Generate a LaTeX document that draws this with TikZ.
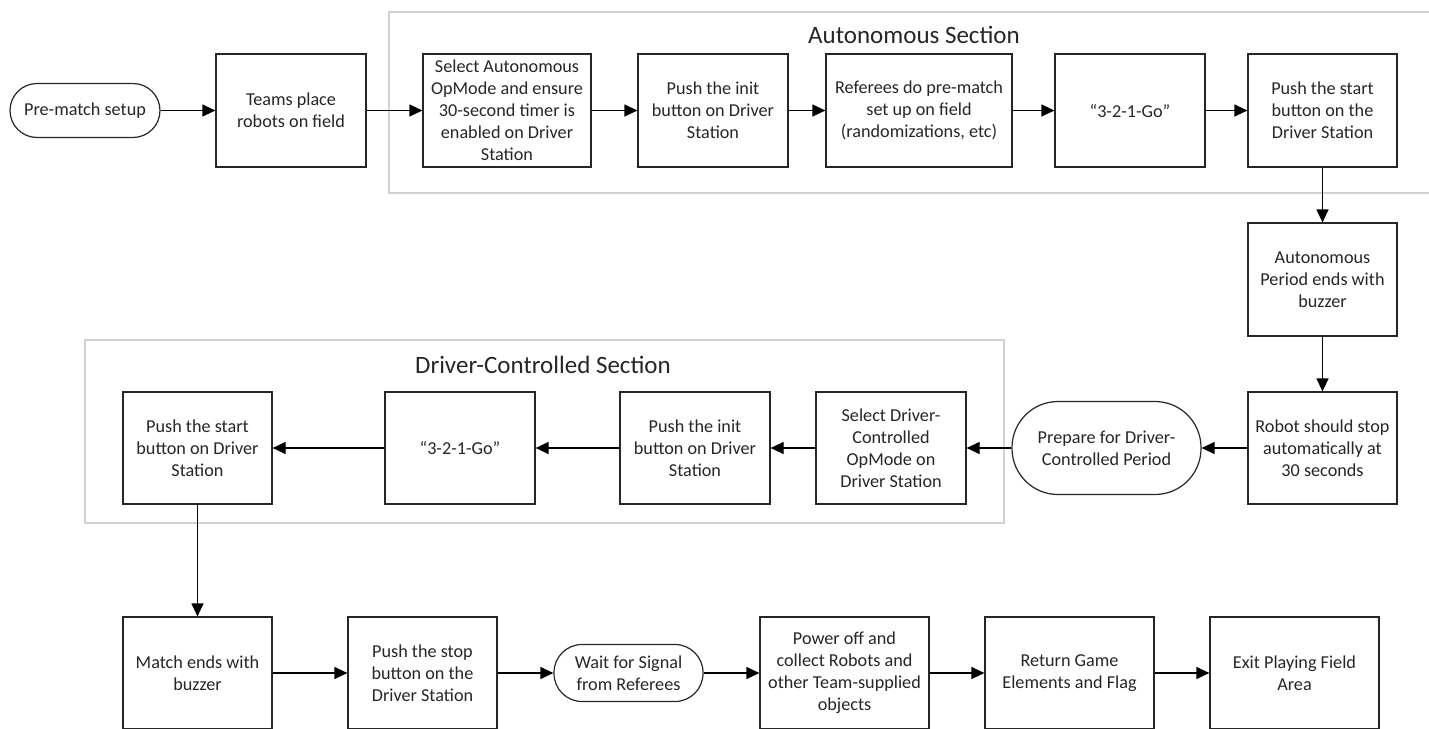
\documentclass[tikz,border=0pt]{standalone}
\usepackage{fontspec}
\setmainfont{Carlito}
\usetikzlibrary{arrows.meta}
\begin{document}
\begin{tikzpicture}[x=1pt,y=-1pt,
  box/.style={draw=black!85, line width=1.2pt, align=center, font=\fontsize{18.2}{22}\selectfont, text=black!85, inner sep=2pt},
  pill/.style={box, rounded corners=#1},
  cont/.style={draw=black!18, line width=1.5pt},
  arr/.style={draw=black, line width=1.2pt, -{Triangle[length=13pt,width=12pt]}},
  ttl/.style={font=\fontsize{25}{29}\selectfont, text=black!85}]
\useasboundingbox (0,0) rectangle (1429,728);
\clip (0,0) rectangle (1429,728);
% containers
\draw[cont] (389,12) rectangle (1440,193);
\node[ttl] (tauto) at (914,35) {Autonomous Section};
\draw[cont] (85,340) rectangle (1004,523);
\node[ttl] (tdc) at (543,365) {Driver-Controlled Section};
% top row
\node[pill=27pt, minimum width=150pt, minimum height=54pt] (p1) at (85,110.5) {Pre-match setup};
\node[box, minimum width=150pt, minimum height=113pt] (b1) at (291,110.5) {Teams place\\robots on field};
\node[box, minimum width=168pt, minimum height=113pt] (b2) at (507,110.5) {Select Autonomous\\OpMode and ensure\\30-second timer is\\enabled on Driver\\Station};
\node[box, minimum width=150pt, minimum height=113pt] (b3) at (713,110.5) {Push the init\\button on Driver\\Station};
\node[box, minimum width=186pt, minimum height=113pt] (b4) at (919,110.5) {Referees do pre-match\\set up on field\\(randomizations, etc)};
\node[box, minimum width=150pt, minimum height=113pt] (b5) at (1130,110.5) {“3-2-1-Go”};
\node[box, minimum width=149pt, minimum height=113pt] (b6) at (1322.5,110.5) {Push the start\\button on the\\Driver Station};
% right column
\node[box, minimum width=149pt, minimum height=113pt] (b7) at (1322.5,279.5) {Autonomous\\Period ends with\\buzzer};
\node[box, minimum width=149pt, minimum height=112pt] (b8) at (1322.5,448) {Robot should stop\\automatically at\\30 seconds};
% middle row
\node[pill=46pt, minimum width=189pt, minimum height=93pt] (p2) at (1106.5,448) {Prepare for Driver-\\Controlled Period};
\node[box, minimum width=150pt, minimum height=112pt] (b9) at (891,448) {Select Driver-\\Controlled\\OpMode on\\Driver Station};
\node[box, minimum width=150pt, minimum height=112pt] (b10) at (695,448) {Push the init\\button on Driver\\Station};
\node[box, minimum width=150pt, minimum height=112pt] (b11) at (460,448) {“3-2-1-Go”};
\node[box, minimum width=149pt, minimum height=112pt] (b12) at (197.5,448) {Push the start\\button on Driver\\Station};
% bottom row
\node[box, minimum width=149pt, minimum height=112pt] (b13) at (197.5,673) {Match ends with\\buzzer};
\node[box, minimum width=149pt, minimum height=112pt] (b14) at (422.5,673) {Push the stop\\button on the\\Driver Station};
\node[pill=28pt, minimum width=149pt, minimum height=57pt] (p3) at (628.5,673) {Wait for Signal\\from Referees};
\node[box, minimum width=169pt, minimum height=112pt] (b15) at (844.5,673) {Power off and\\collect Robots and\\other Team-supplied\\objects};
\node[box, minimum width=169pt, minimum height=112pt] (b16) at (1069.5,673) {Return Game\\Elements and Flag};
\node[box, minimum width=169pt, minimum height=112pt] (b17) at (1294.5,673) {Exit Playing Field\\Area};
% connectors
\draw[arr] (p1) -- (b1);
\draw[arr] (b1) -- (b2);
\draw[arr] (b2) -- (b3);
\draw[arr] (b3) -- (b4);
\draw[arr] (b4) -- (b5);
\draw[arr] (b5) -- (b6);
\draw[arr] (b6) -- (b7);
\draw[arr] (b7) -- (b8);
\draw[arr] (b8) -- (p2);
\draw[arr] (p2) -- (b9);
\draw[arr] (b9) -- (b10);
\draw[arr] (b10) -- (b11);
\draw[arr] (b11) -- (b12);
\draw[arr] (b12) -- (b13);
\draw[arr] (b13) -- (b14);
\draw[arr] (b14) -- (p3);
\draw[arr] (p3) -- (b15);
\draw[arr] (b15) -- (b16);
\draw[arr] (b16) -- (b17);
\end{tikzpicture}
\end{document}
